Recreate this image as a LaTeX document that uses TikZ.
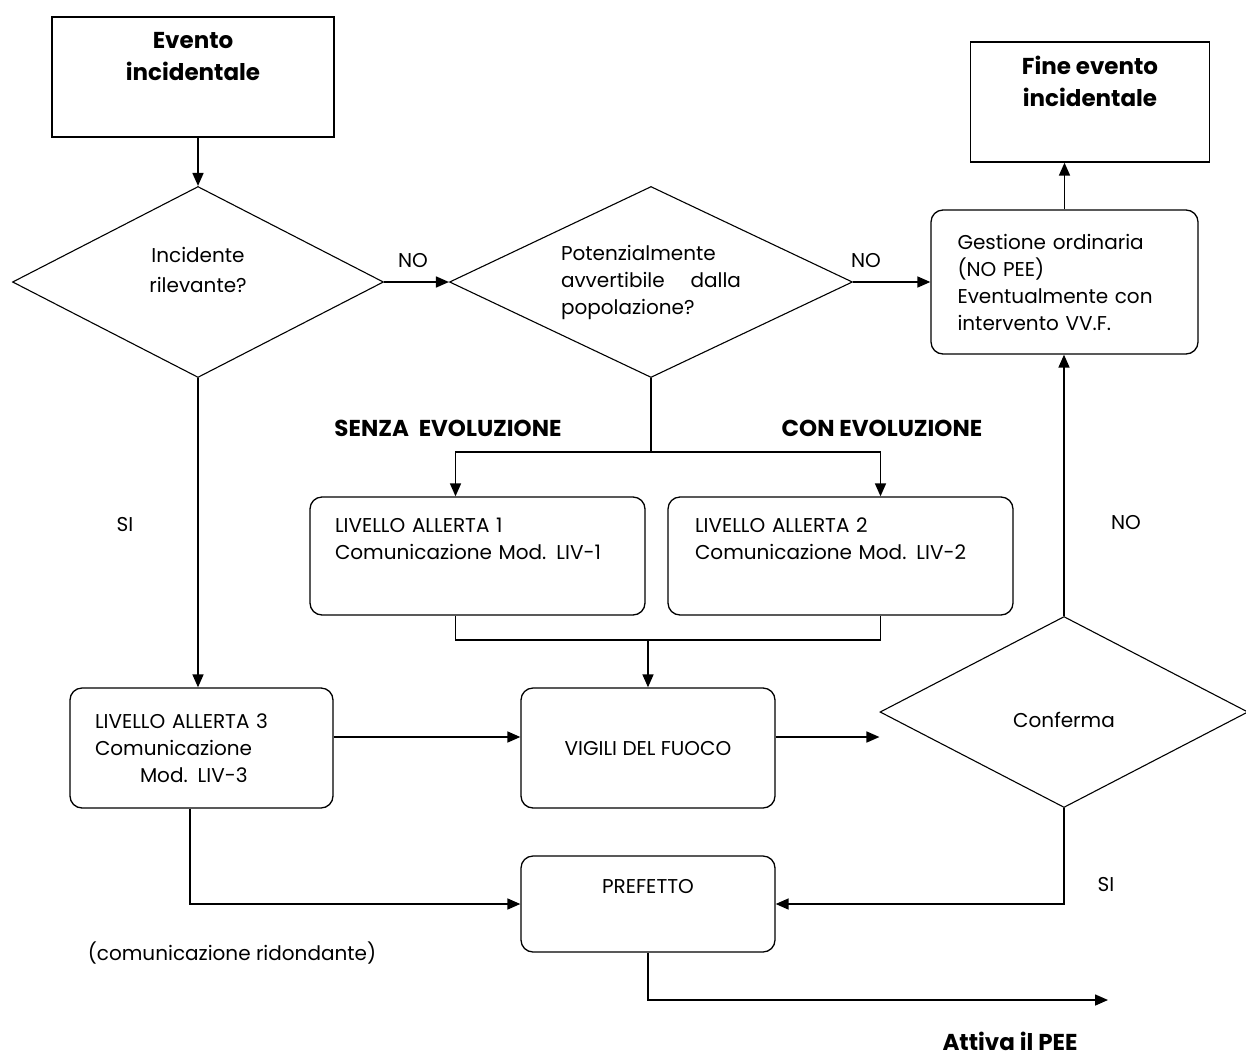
\documentclass[tikz,border=0pt]{standalone}
\usepackage{fontspec}
\setmainfont{Poppins}
\usetikzlibrary{shapes.geometric, arrows.meta}

\begin{document}
\begin{tikzpicture}[x=1pt, y=-1pt,
  every node/.style={font=\fontsize{20}{27}\selectfont},
  title/.style={draw=black, line width=1.3pt, inner sep=0pt, align=center, font=\fontsize{23}{32}\selectfont\bfseries},
  stepbox/.style={draw=black, line width=1.3pt, rounded corners=12pt, inner sep=0pt},
  choice/.style={draw=black, line width=1.1pt, diamond, shape aspect=2, inner sep=0pt},
  flow/.style={line width=1.6pt, -{Triangle[length=13pt, width=11pt]}},
  link/.style={line width=1.3pt},
  heading/.style={font=\fontsize{23}{27}\selectfont\bfseries}]
\useasboundingbox (0,0) rectangle (1246,1060);

% Start and end boxes
\node[title, minimum width=282pt, minimum height=120pt] (evento) at (193,77) {Evento\\incidentale\\ \strut};
\node[title, minimum width=239pt, minimum height=120pt] (fine) at (1090,102) {Fine evento\\incidentale\\ \strut};

% Decisions
\node[choice, minimum width=371pt, minimum height=191pt, align=center, font=\fontsize{20}{30}\selectfont] (rilev) at (198,282) {Incidente\\rilevante?\\[-14pt] \strut};
\node[choice, minimum width=403pt, minimum height=191pt, text width=180pt, align=left] (avvert) at (651,282) {Potenzialmente\\avvertibile\hfill dalla\\popolazione?};
\node[choice, minimum width=368pt, minimum height=191pt, align=center] (conf) at (1064,712) {\strut\\[-14pt]Conferma};

% Process boxes
\node[stepbox, minimum width=267pt, minimum height=144pt, text width=214pt, align=left] (gest) at (1064.5,282) {Gestione ordinaria\\(NO PEE)\\Eventualmente con\\intervento VV.F.};
\node[stepbox, minimum width=335pt, minimum height=118pt, text width=285pt, align=left] (liv1) at (477.5,556) {LIVELLO ALLERTA 1\\Comunicazione Mod. LIV-1\\ \strut};
\node[stepbox, minimum width=345pt, minimum height=118pt, text width=291pt, align=left] (liv2) at (840.5,556) {LIVELLO ALLERTA 2\\Comunicazione Mod. LIV-2\\ \strut};
\node[stepbox, minimum width=263pt, minimum height=120pt, text width=213pt, align=left] (liv3) at (201.5,748) {LIVELLO ALLERTA 3\\Comunicazione\\\hspace*{45pt}Mod. LIV-3};
\node[stepbox, minimum width=254pt, minimum height=120pt] (vigili) at (648,748) {VIGILI DEL FUOCO};
\node[stepbox, minimum width=254pt, minimum height=96pt, align=center] (pref) at (648,904) {PREFETTO\\ \strut};

% Junction points
\coordinate (split) at (651,452);
\coordinate (merge) at (648,640);
\coordinate (pee) at (1108,1000);

% Connectors
\draw[flow] (rilev.north |- evento.south) -- (rilev.north);
\draw[flow] (rilev.east) -- (avvert.west);
\draw[flow] (avvert.east) -- (gest.west);
\draw[flow] (gest.north) -- (gest.north |- fine.south);
\draw[link] (avvert.south) -- (split);
\draw[flow] (split) -| ([xshift=-22pt]liv1.north);
\draw[flow] (split) -| ([xshift=40pt]liv2.north);
\draw[link] ([xshift=-22pt]liv1.south) |- (merge) -| ([xshift=40pt]liv2.south);
\draw[flow] (merge) -- (vigili);
\draw[flow] (rilev.south) -- (rilev.south |- liv3.north);
\draw[flow] ([yshift=11pt]liv3.east) -- ([yshift=11pt]vigili.west);
\draw[flow] ([yshift=11pt]vigili.east) -- ([yshift=-25pt]conf.west);
\draw[flow] (conf.north) -- (conf.north |- gest.south);
\draw[flow] (conf.south) |- (pref.east);
\draw[flow] ([xshift=-11.5pt]liv3.south) |- (pref.west);
\draw[flow] (pref.south) |- (pee);

% Labels
\node at (413,261) {NO};
\node at (866,261) {NO};
\node at (1126,523) {NO};
\node at (125,525) {SI};
\node at (1106,884) {SI};
\node[heading] at (448,428) {SENZA\ \ EVOLUZIONE};
\node[heading] at (882,428) {CON EVOLUZIONE};
\node at (232,953) {(comunicazione ridondante)};
\node[heading, anchor=base, inner sep=0pt] at (1010,1050) {Attiva il PEE};
\end{tikzpicture}
\end{document}
